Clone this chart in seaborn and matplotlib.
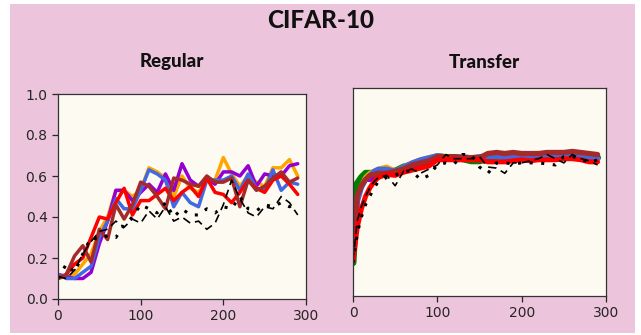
import numpy as np
import pandas as pd
import matplotlib
matplotlib.use("Agg")
import matplotlib.pyplot as plt
from matplotlib.patches import Rectangle
import seaborn as sns

# ---- data -------------------------------------------------------------
steps_regular = list(range(0, 300, 10))

reg_orange = [0.10, 0.11, 0.12, 0.17, 0.22, 0.33, 0.40, 0.53, 0.53, 0.50,
              0.53, 0.64, 0.62, 0.59, 0.50, 0.60, 0.54, 0.52, 0.58, 0.58,
              0.69, 0.61, 0.55, 0.60, 0.57, 0.55, 0.64, 0.64, 0.68, 0.60]
reg_blue = [0.12, 0.10, 0.10, 0.13, 0.16, 0.30, 0.38, 0.49, 0.44, 0.44,
            0.53, 0.63, 0.61, 0.58, 0.45, 0.52, 0.47, 0.45, 0.58, 0.58,
            0.58, 0.60, 0.53, 0.61, 0.54, 0.53, 0.63, 0.53, 0.57, 0.56]
reg_purple = [0.12, 0.11, 0.10, 0.10, 0.13, 0.27, 0.38, 0.53, 0.53, 0.48,
              0.52, 0.56, 0.52, 0.61, 0.53, 0.66, 0.58, 0.55, 0.59, 0.56,
              0.62, 0.62, 0.60, 0.65, 0.55, 0.61, 0.60, 0.60, 0.65, 0.66]
reg_red = [0.10, 0.12, 0.17, 0.20, 0.30, 0.40, 0.39, 0.47, 0.54, 0.41,
           0.48, 0.48, 0.51, 0.54, 0.48, 0.52, 0.55, 0.50, 0.59, 0.52,
           0.51, 0.47, 0.52, 0.58, 0.54, 0.52, 0.58, 0.60, 0.56, 0.51]
reg_brown = [0.10, 0.12, 0.21, 0.26, 0.18, 0.34, 0.29, 0.46, 0.39, 0.46,
             0.57, 0.55, 0.50, 0.44, 0.59, 0.58, 0.56, 0.55, 0.60, 0.57,
             0.57, 0.59, 0.45, 0.58, 0.53, 0.55, 0.59, 0.62, 0.57, 0.59]
reg_dashed = [0.11, 0.10, 0.14, 0.22, 0.28, 0.33, 0.34, 0.38, 0.35, 0.39,
              0.37, 0.43, 0.39, 0.45, 0.38, 0.40, 0.37, 0.38, 0.34, 0.37,
              0.46, 0.58, 0.49, 0.42, 0.40, 0.45, 0.44, 0.50, 0.47, 0.41]
reg_dotted = [0.10, 0.17, 0.13, 0.22, 0.30, 0.29, 0.31, 0.30, 0.36, 0.40,
              0.46, 0.44, 0.42, 0.47, 0.40, 0.44, 0.41, 0.41, 0.44, 0.42,
              0.45, 0.44, 0.50, 0.44, 0.43, 0.46, 0.45, 0.47, 0.45, 0.47]

steps_transfer = [0, 5, 10, 15, 20, 25] + list(range(30, 300, 10))

tr_green = [0.16, 0.54, 0.57, 0.59, 0.59, 0.59, 0.59, 0.60, 0.60, 0.62,
            0.63, 0.64, 0.65, 0.67, 0.665, 0.665, 0.66, 0.65, 0.65, 0.66,
            0.66, 0.66, 0.665, 0.67, 0.665, 0.67, 0.67, 0.675, 0.68, 0.68,
            0.675, 0.67, 0.665]
tr_orange = [0.18, 0.46, 0.53, 0.57, 0.59, 0.60, 0.61, 0.62, 0.60, 0.62,
             0.64, 0.655, 0.665, 0.675, 0.67, 0.665, 0.67, 0.665, 0.67, 0.67,
             0.67, 0.665, 0.67, 0.675, 0.67, 0.67, 0.67, 0.67, 0.675, 0.68,
             0.67, 0.665, 0.66]
tr_purple = [0.17, 0.47, 0.53, 0.56, 0.56, 0.58, 0.59, 0.59, 0.60, 0.61,
             0.63, 0.64, 0.65, 0.67, 0.67, 0.67, 0.665, 0.665, 0.665, 0.68,
             0.685, 0.68, 0.685, 0.68, 0.68, 0.68, 0.685, 0.685, 0.685, 0.69,
             0.685, 0.68, 0.675]
tr_blue = [0.18, 0.45, 0.52, 0.56, 0.58, 0.60, 0.61, 0.61, 0.60, 0.62,
           0.64, 0.655, 0.665, 0.675, 0.67, 0.665, 0.67, 0.665, 0.67, 0.67,
           0.67, 0.665, 0.67, 0.675, 0.67, 0.67, 0.67, 0.67, 0.675, 0.68,
           0.67, 0.665, 0.66]
tr_brown = [0.17, 0.48, 0.53, 0.56, 0.58, 0.585, 0.59, 0.59, 0.60, 0.61,
            0.63, 0.64, 0.65, 0.67, 0.67, 0.67, 0.665, 0.665, 0.665, 0.685,
            0.69, 0.685, 0.69, 0.685, 0.685, 0.685, 0.69, 0.69, 0.69, 0.695,
            0.69, 0.685, 0.68]
tr_red = [0.17, 0.33, 0.42, 0.48, 0.52, 0.55, 0.57, 0.585, 0.58, 0.595,
          0.605, 0.615, 0.625, 0.655, 0.655, 0.655, 0.655, 0.655, 0.655, 0.645,
          0.645, 0.645, 0.65, 0.655, 0.65, 0.655, 0.655, 0.655, 0.66, 0.66,
          0.655, 0.645, 0.645]
tr_dashed = [0.17, 0.36, 0.43, 0.48, 0.52, 0.55, 0.57, 0.58, 0.53, 0.60,
             0.61, 0.59, 0.61, 0.63, 0.68, 0.66, 0.66, 0.66, 0.67, 0.62,
             0.615, 0.59, 0.64, 0.64, 0.65, 0.66, 0.68, 0.66, 0.64, 0.68,
             0.66, 0.65, 0.63]
tr_dotted = [0.16, 0.30, 0.38, 0.44, 0.48, 0.52, 0.55, 0.57, 0.58, 0.60,
             0.60, 0.56, 0.58, 0.63, 0.64, 0.635, 0.68, 0.68, 0.62, 0.59,
             0.64, 0.64, 0.635, 0.64, 0.64, 0.64, 0.635, 0.63, 0.67, 0.67,
             0.66, 0.64, 0.655]

x_ticks = [0, 100, 200, 300]
y_ticks = [0.0, 0.2, 0.4, 0.6, 0.8, 1.0]

# ---- styling ----------------------------------------------------------
PINK = "#ecc4db"
PANEL = "#fdfaf1"
sns.set_style("ticks")
plt.rcParams["font.family"] = ["DejaVu Sans"]

fig = plt.figure(figsize=(6.41, 3.35), dpi=100)
fig.patch.set_facecolor("white")
fig.patches.append(Rectangle((10 / 641, 2 / 335), 625 / 641, 329 / 335,
                             transform=fig.transFigure, facecolor=PINK,
                             edgecolor="none", zorder=-10))

ax_reg = fig.add_axes([58 / 641, 36 / 335, 248 / 641, 205 / 335])
ax_tr = fig.add_axes([353 / 641, 39 / 335, 253 / 641, 208 / 335])
ax_reg.set_zorder(1)
ax_tr.set_zorder(1)


def draw(ax, x, series):
    for y, color, lw in series:
        sns.lineplot(x=x, y=y, ax=ax, color=color, linewidth=lw,
                     estimator=None, legend=False)


reg_colored = [(reg_orange, "orange", 2.5), (reg_purple, "darkviolet", 2.5),
               (reg_blue, "royalblue", 2.5), (reg_red, "red", 2.5),
               (reg_brown, "brown", 2.5)]
tr_colored = [(tr_green, "green", 5.0), (tr_orange, "orange", 3.6),
              (tr_purple, "darkviolet", 3.6), (tr_blue, "royalblue", 3.6),
              (tr_brown, "brown", 3.8), (tr_red, "red", 3.6)]

draw(ax_reg, steps_regular, reg_colored)
draw(ax_tr, steps_transfer, tr_colored)

for ax, x, dashed, dotted in [(ax_reg, steps_regular, reg_dashed, reg_dotted),
                              (ax_tr, steps_transfer, tr_dashed, tr_dotted)]:
    sns.lineplot(x=x, y=dashed, ax=ax, color="black", linewidth=1.2,
                 linestyle=(0, (5, 3)), estimator=None, legend=False)
    sns.lineplot(x=x, y=dotted, ax=ax, color="black", linewidth=2.2,
                 linestyle=(0, (1, 2.8)), estimator=None, legend=False)

for ax in (ax_reg, ax_tr):
    ax.set_facecolor(PANEL)
    ax.set_xlim(0, 300)
    ax.set_ylim(0, 1)
    ax.set_xticks(x_ticks)
    ax.set_xlabel("")
    ax.set_ylabel("")
    ax.tick_params(labelsize=10, colors="#262626", length=4, width=0.9)
    for s in ax.spines.values():
        s.set_visible(True)
        s.set_color("#333333")
        s.set_linewidth(0.9)

ax_reg.set_yticks(y_ticks)
ax_reg.set_yticklabels([f"{v:.1f}" for v in y_ticks])
ax_tr.set_yticks([])

title_font = dict(family="Lato", weight=900, color="#111111")
fig.text(0.5, 1 - 20 / 335, "CIFAR-10", ha="center", va="center",
         fontsize=17.5, **title_font)
fig.text(172 / 641, 1 - 62 / 335, "Regular", ha="center", va="center",
         fontsize=13.5, **title_font)
fig.text(484 / 641, 1 - 62 / 335, "Transfer", ha="center", va="center",
         fontsize=13.5, **title_font)

fig.savefig("out.png", dpi=100, facecolor=fig.get_facecolor())
